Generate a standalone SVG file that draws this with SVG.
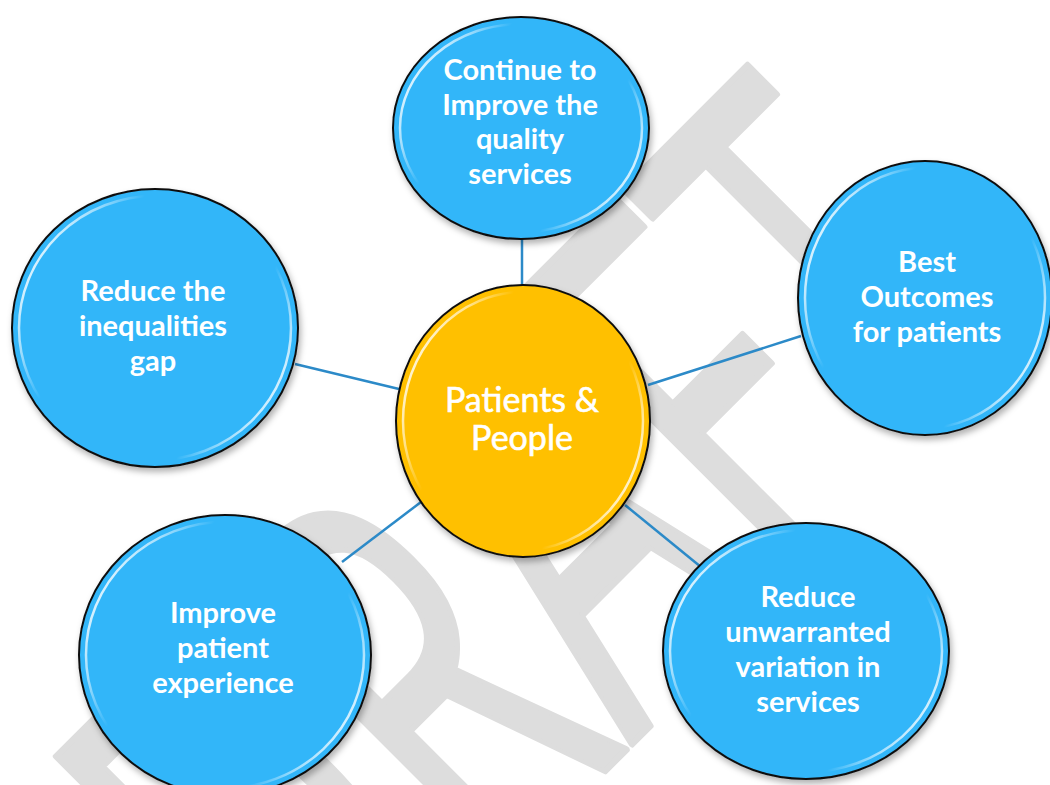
<svg xmlns="http://www.w3.org/2000/svg" width="1050" height="785" viewBox="0 0 1050 785">
  <defs>
    <linearGradient id="gloss" x1="0" y1="0.25" x2="1" y2="0.75">
      <stop offset="0" stop-color="#ffffff" stop-opacity="0.95"/>
      <stop offset="0.14" stop-color="#ffffff" stop-opacity="0.55"/>
      <stop offset="0.27" stop-color="#ffffff" stop-opacity="0"/>
      <stop offset="0.76" stop-color="#ffffff" stop-opacity="0"/>
      <stop offset="0.88" stop-color="#ffffff" stop-opacity="0.55"/>
      <stop offset="1" stop-color="#ffffff" stop-opacity="0.95"/>
    </linearGradient>
    <filter id="shadow" x="-20%" y="-20%" width="140%" height="140%">
      <feDropShadow dx="2" dy="4" stdDeviation="3" flood-color="#000000" flood-opacity="0.3"/>
    </filter>
  </defs>
  <style>
    .blue { fill: #33b6f9; stroke: #111111; stroke-width: 2; }
    .gold { fill: #ffc000; stroke: #111111; stroke-width: 2; }
    .hl { fill: none; stroke: url(#gloss); stroke-width: 2.5; }
    .lbl { font-family: Lato, "Open Sans", "Liberation Sans", sans-serif; font-weight: bold; font-size: 29px; fill: #ffffff; text-anchor: middle; }
    .ctr { font-family: Lato, "Open Sans", "Liberation Sans", sans-serif; font-size: 34px; fill: #ffffff; stroke: #ffffff; stroke-width: 0.6; text-anchor: middle; }
    .conn { stroke: #2c8ac8; stroke-width: 2.5; fill: none; }
    .wm { font-family: "Open Sans", "Noto Sans", sans-serif; font-size: 334px; fill: #dddddd; stroke: #dddddd; stroke-width: 4; stroke-linejoin: round; }
  </style>
  <rect width="1050" height="785" fill="#ffffff"/>
  <text class="wm" transform="translate(314,1062) rotate(-45) scale(1,1.67)">DRAFT</text>

  <g id="connectors">
    <line class="conn" x1="522" y1="238" x2="522" y2="287"/>
    <line class="conn" x1="295" y1="364" x2="399" y2="389"/>
    <line class="conn" x1="648" y1="385" x2="801" y2="336"/>
    <line class="conn" x1="421" y1="502" x2="342" y2="562"/>
    <line class="conn" x1="625" y1="505" x2="701" y2="567"/>
  </g>

  <g id="node-top">
    <ellipse class="blue" filter="url(#shadow)" cx="521" cy="128" rx="128" ry="111"/>
    <ellipse class="hl" cx="521" cy="128" rx="121" ry="104"/>
    <text class="lbl" x="520" y="80">Continue to</text>
    <text class="lbl" x="520" y="115">Improve the</text>
    <text class="lbl" x="520" y="149">quality</text>
    <text class="lbl" x="520" y="184">services</text>
  </g>

  <g id="node-left">
    <ellipse class="blue" filter="url(#shadow)" cx="155" cy="328" rx="143" ry="139"/>
    <ellipse class="hl" cx="155" cy="328" rx="136" ry="132"/>
    <text class="lbl" x="153" y="301">Reduce the</text>
    <text class="lbl" x="153" y="336">inequalities</text>
    <text class="lbl" x="153" y="371">gap</text>
  </g>

  <g id="node-right">
    <ellipse class="blue" filter="url(#shadow)" cx="925" cy="298" rx="127" ry="137"/>
    <ellipse class="hl" cx="925" cy="298" rx="120" ry="130"/>
    <text class="lbl" x="927" y="272">Best</text>
    <text class="lbl" x="927" y="307">Outcomes</text>
    <text class="lbl" x="927" y="342">for patients</text>
  </g>

  <g id="node-bottom-left">
    <ellipse class="blue" filter="url(#shadow)" cx="225" cy="655" rx="146" ry="140"/>
    <ellipse class="hl" cx="225" cy="655" rx="139" ry="133"/>
    <text class="lbl" x="223" y="623">Improve</text>
    <text class="lbl" x="223" y="658">patient</text>
    <text class="lbl" x="223" y="693">experience</text>
  </g>

  <g id="node-bottom-right">
    <ellipse class="blue" filter="url(#shadow)" cx="806" cy="651" rx="143" ry="128"/>
    <ellipse class="hl" cx="806" cy="651" rx="136" ry="121"/>
    <text class="lbl" x="808" y="607">Reduce</text>
    <text class="lbl" x="808" y="642">unwarranted</text>
    <text class="lbl" x="808" y="677">variation in</text>
    <text class="lbl" x="808" y="712">services</text>
  </g>

  <g id="node-center">
    <ellipse class="gold" filter="url(#shadow)" cx="523" cy="421" rx="127" ry="136"/>
    <ellipse class="hl" cx="523" cy="421" rx="120" ry="129"/>
    <text class="ctr" x="522" y="412">Patients &amp;</text>
    <text class="ctr" x="522" y="450">People</text>
  </g>
</svg>
